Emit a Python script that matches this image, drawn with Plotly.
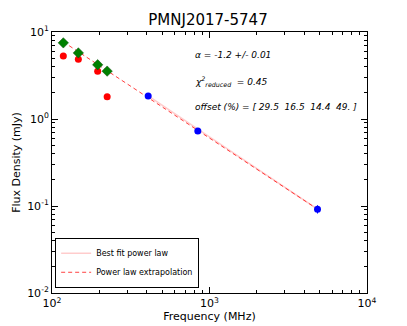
import plotly.graph_objects as go

# measured points
green_freq = [118, 147, 195, 224]
green_flux = [7.5, 5.75, 4.2, 3.55]
red_freq = [118, 147, 195, 224]
red_flux = [5.3, 4.85, 3.55, 1.8]
blue_freq = [408, 843, 4850]
blue_flux = [1.84, 0.73, 0.092]
blue_err = [0.05, 0.03, 0.01]

# power law lines
fit_freq = [408, 4850]
fit_flux = [1.84, 0.092]
extrap_freq = [118, 4850]
extrap_flux = [7.7, 0.092]

x_minor = [m * 10 ** d for d in (2, 3) for m in range(2, 10)]
y_minor = [m * 10.0 ** d for d in (-2, -1, 0) for m in range(2, 10)]

# the page body adds an 8px margin, so the figure is 8px smaller
W, H = 399, 318

fig = go.Figure()

fig.add_trace(go.Scatter(x=fit_freq, y=fit_flux, mode="lines", name="Best fit power law",
                         line=dict(color="rgba(255,0,0,0.2)", width=1.5)))
fig.add_trace(go.Scatter(x=extrap_freq, y=extrap_flux, mode="lines", name="Power law extrapolation",
                         line=dict(color="rgba(255,0,0,0.75)", width=1, dash="4px,3px")))
fig.add_trace(go.Scatter(x=red_freq, y=red_flux, mode="markers", showlegend=False,
                         marker=dict(color="red", size=7, symbol="circle", line=dict(width=0))))
fig.add_trace(go.Scatter(x=green_freq, y=green_flux, mode="markers", showlegend=False,
                         marker=dict(color="green", size=8, symbol="diamond",
                                     line=dict(color="#0a4f0a", width=0.5))))
fig.add_trace(go.Scatter(x=blue_freq, y=blue_flux, mode="markers", showlegend=False,
                         error_y=dict(type="data", array=blue_err, color="blue", thickness=1, width=0),
                         marker=dict(color="blue", size=7, symbol="circle", line=dict(width=0))))

notes = [
    ("α = -1.2 +/- 0.01", 55),
    ("χ<sup>2</sup><sub>reduced</sub>  = 0.45", 81),
    ("offset (%) = [ 29.5  16.5  14.4  49. ]", 107),
]
for txt, ypix in notes:
    fig.add_annotation(text="<i>" + txt + "</i>", xref="paper", yref="paper",
                       x=(193 - 52) / 315, y=1 - (ypix - 32) / 261,
                       xanchor="left", yanchor="middle", showarrow=False,
                       font=dict(size=9, color="black"))

axis_common = dict(type="log", showgrid=False, zeroline=False, showline=True,
                   linecolor="black", linewidth=1, mirror="allticks", automargin=False,
                   ticks="inside", ticklen=6, tickcolor="black", tickwidth=1,
                   tickfont=dict(size=11, color="black"))

fig.update_xaxes(range=[2, 4], tickvals=[100, 1000, 10000],
                 ticktext=["10<sup>2</sup>", "10<sup>3</sup>", "10<sup>4</sup>"],
                 minor=dict(ticks="inside", ticklen=3, tickcolor="black", tickwidth=0.6,
                            tickvals=x_minor, showgrid=False),
                 title=dict(text="Frequency (MHz)", font=dict(size=11, color="black"), standoff=2),
                 **axis_common)
fig.update_yaxes(range=[-2, 1], tickvals=[0.01, 0.1, 1, 10],
                 ticktext=["10<sup>-2</sup>", "10<sup>-1</sup>", "10<sup>0</sup>", "10<sup>1</sup>"],
                 minor=dict(ticks="inside", ticklen=3, tickcolor="black", tickwidth=0.6,
                            tickvals=y_minor, showgrid=False),
                 title=dict(text="Flux Density (mJy)", font=dict(size=11, color="black"), standoff=4),
                 **axis_common)

fig.update_layout(
    width=W, height=H,
    margin=dict(l=44, r=40, t=24, b=33, autoexpand=False),
    paper_bgcolor="white", plot_bgcolor="white",
    font=dict(family="DejaVu Sans", color="black"),
    title=dict(text="PMNJ2017-5747", x=200 / W, xanchor="center",
               y=1 - 12 / H, yanchor="middle", font=dict(size=15, color="black")),
    legend=dict(x=0.01, y=0.02, xanchor="left", yanchor="bottom",
                bgcolor="white", bordercolor="black", borderwidth=1,
                itemwidth=30, font=dict(size=8, color="black"), tracegroupgap=0),
)

fig.write_html("out.html")
